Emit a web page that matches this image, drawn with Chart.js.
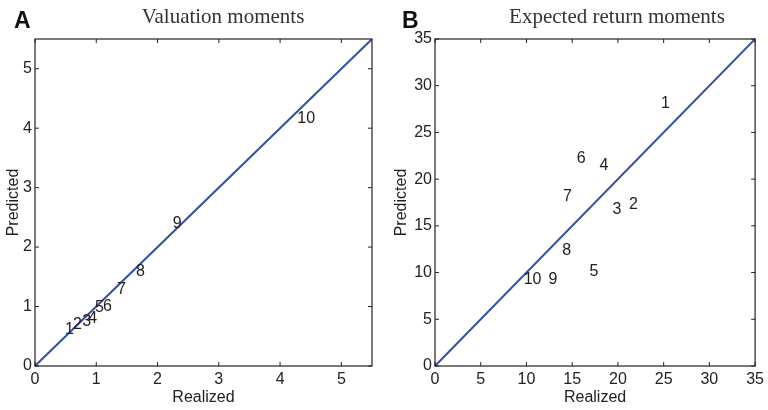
<!DOCTYPE html>
<html>
<head>
<meta charset="utf-8">
<script src="https://cdn.jsdelivr.net/npm/chart.js@4.4.0/dist/chart.umd.min.js"></script>
<style>
  html, body { margin: 0; padding: 0; background: #fff; }
  #wrap { position: relative; width: 768px; height: 410px; }
  .panel { position: absolute; top: 0; width: 384px; height: 410px; }
</style>
</head>
<body>
<div id="wrap">
  <div class="panel" style="left:0"><canvas id="chartA" width="384" height="410"></canvas></div>
  <div class="panel" style="left:384px"><canvas id="chartB" width="384" height="410"></canvas></div>
</div>
<script>
// moment numbers used as point labels
const momentLabels = ['1', '2', '3', '4', '5', '6', '7', '8', '9', '10'];

// panel A: valuation moments
const valRealized  = [0.49, 0.62, 0.77, 0.87, 0.98, 1.11, 1.34, 1.65, 2.25, 4.28];
const valPredicted = [0.62, 0.69, 0.74, 0.80, 0.99, 1.00, 1.29, 1.58, 2.39, 4.16];
const valTicks = [0, 1, 2, 3, 4, 5];
const valMax = 5.5;

// panel B: expected return moments
const retRealized  = [24.7, 21.2, 19.4, 18.0, 16.9, 15.5, 14.0, 13.9, 12.4, 9.7];
const retPredicted = [28.1, 17.3, 16.7, 21.5, 10.1, 22.2, 18.1, 12.4, 9.2, 9.2];
const retTicks = [0, 5, 10, 15, 20, 25, 30, 35];
const retMax = 35;

const SANS = '"Liberation Sans Narrow", "Liberation Sans", Arial, sans-serif';
const tickFont = { family: SANS, size: 16 };

// text labels, inward ticks, box, panel letter and title
const decorPlugin = {
    id: 'decor',
    afterDraw(chart, args, opts) {
        const ctx = chart.ctx;
        const area = chart.chartArea;
        const xs = chart.scales.x, ys = chart.scales.y;

        // moment numbers (left aligned, vertically centred at the point)
        const ds = chart.data.datasets[1];
        ctx.save();
        ctx.fillStyle = '#222';
        ctx.font = '16px ' + SANS;
        ctx.textAlign = 'left';
        ctx.textBaseline = 'middle';
        ds.data.forEach((p, i) => {
            ctx.fillText(opts.labels[i], xs.getPixelForValue(p.x), ys.getPixelForValue(p.y));
        });
        ctx.restore();

        // box + inward tick marks on all sides
        ctx.save();
        ctx.strokeStyle = '#222';
        ctx.lineWidth = 1.2;
        ctx.strokeRect(area.left, area.top, area.right - area.left, area.bottom - area.top);
        ctx.lineWidth = 1;
        ctx.beginPath();
        opts.ticks.forEach(v => {
            const px = xs.getPixelForValue(v);
            ctx.moveTo(px, area.bottom); ctx.lineTo(px, area.bottom - 4);
            ctx.moveTo(px, area.top); ctx.lineTo(px, area.top + 4);
            const py = ys.getPixelForValue(v);
            ctx.moveTo(area.left, py); ctx.lineTo(area.left + 4, py);
            ctx.moveTo(area.right, py); ctx.lineTo(area.right - 4, py);
        });
        ctx.stroke();

        // panel letter and title
        ctx.fillStyle = '#111';
        ctx.font = 'bold 23px "Liberation Sans", Arial, sans-serif';
        ctx.textAlign = 'left';
        ctx.textBaseline = 'alphabetic';
        ctx.fillText(opts.letter, opts.letterX, 28);
        ctx.fillStyle = '#333';
        ctx.font = '21px "Liberation Serif", "DejaVu Serif", serif';
        ctx.textAlign = 'center';
        ctx.fillText(opts.title, opts.titleX, 23);
        ctx.restore();
    }
};

function makeChart(id, realized, predicted, ticks, max, axisWidth, yTitlePad, padRight, decor) {
    const points = realized.map((x, i) => ({ x: x, y: predicted[i] }));
    return new Chart(document.getElementById(id), {
        type: 'scatter',
        data: {
            datasets: [
                {
                    type: 'line',
                    data: [{ x: 0, y: 0 }, { x: max, y: max }],
                    borderColor: '#3350a5',
                    borderWidth: 2,
                    pointRadius: 0
                },
                { data: points, pointRadius: 0, showLine: false }
            ]
        },
        options: {
            responsive: false,
            animation: false,
            layout: { padding: { top: 39, right: padRight, bottom: 0, left: 0 } },
            plugins: { legend: { display: false }, tooltip: { enabled: false }, decor: decor },
            scales: {
                x: {
                    type: 'linear', min: 0, max: max,
                    afterBuildTicks: s => { s.ticks = ticks.map(v => ({ value: v })); },
                    afterFit: s => { s.height = 44; },
                    grid: { display: false, drawTicks: false },
                    border: { display: false },
                    ticks: { color: '#222', font: tickFont, padding: 4, maxRotation: 0 },
                    title: { display: true, text: 'Realized', color: '#222', font: tickFont, padding: { top: 0, bottom: 3 } }
                },
                y: {
                    type: 'linear', min: 0, max: max,
                    afterBuildTicks: s => { s.ticks = ticks.map(v => ({ value: v })); },
                    afterFit: s => { s.width = axisWidth; },
                    grid: { display: false, drawTicks: false },
                    border: { display: false },
                    ticks: { color: '#222', font: tickFont, padding: 3 },
                    title: { display: true, text: 'Predicted', color: '#222', font: tickFont, padding: { top: yTitlePad, bottom: 0 } }
                }
            }
        },
        plugins: [decorPlugin]
    });
}

makeChart('chartA', valRealized, valPredicted, valTicks, valMax, 35, 4, 12,
    { labels: momentLabels, ticks: valTicks, letter: 'A', letterX: 14, title: 'Valuation moments', titleX: 223 });
makeChart('chartB', retRealized, retPredicted, retTicks, retMax, 51, 8, 6,
    { labels: momentLabels, ticks: retTicks, letter: 'B', letterX: 18, title: 'Expected return moments', titleX: 233 });
</script>
</body>
</html>
